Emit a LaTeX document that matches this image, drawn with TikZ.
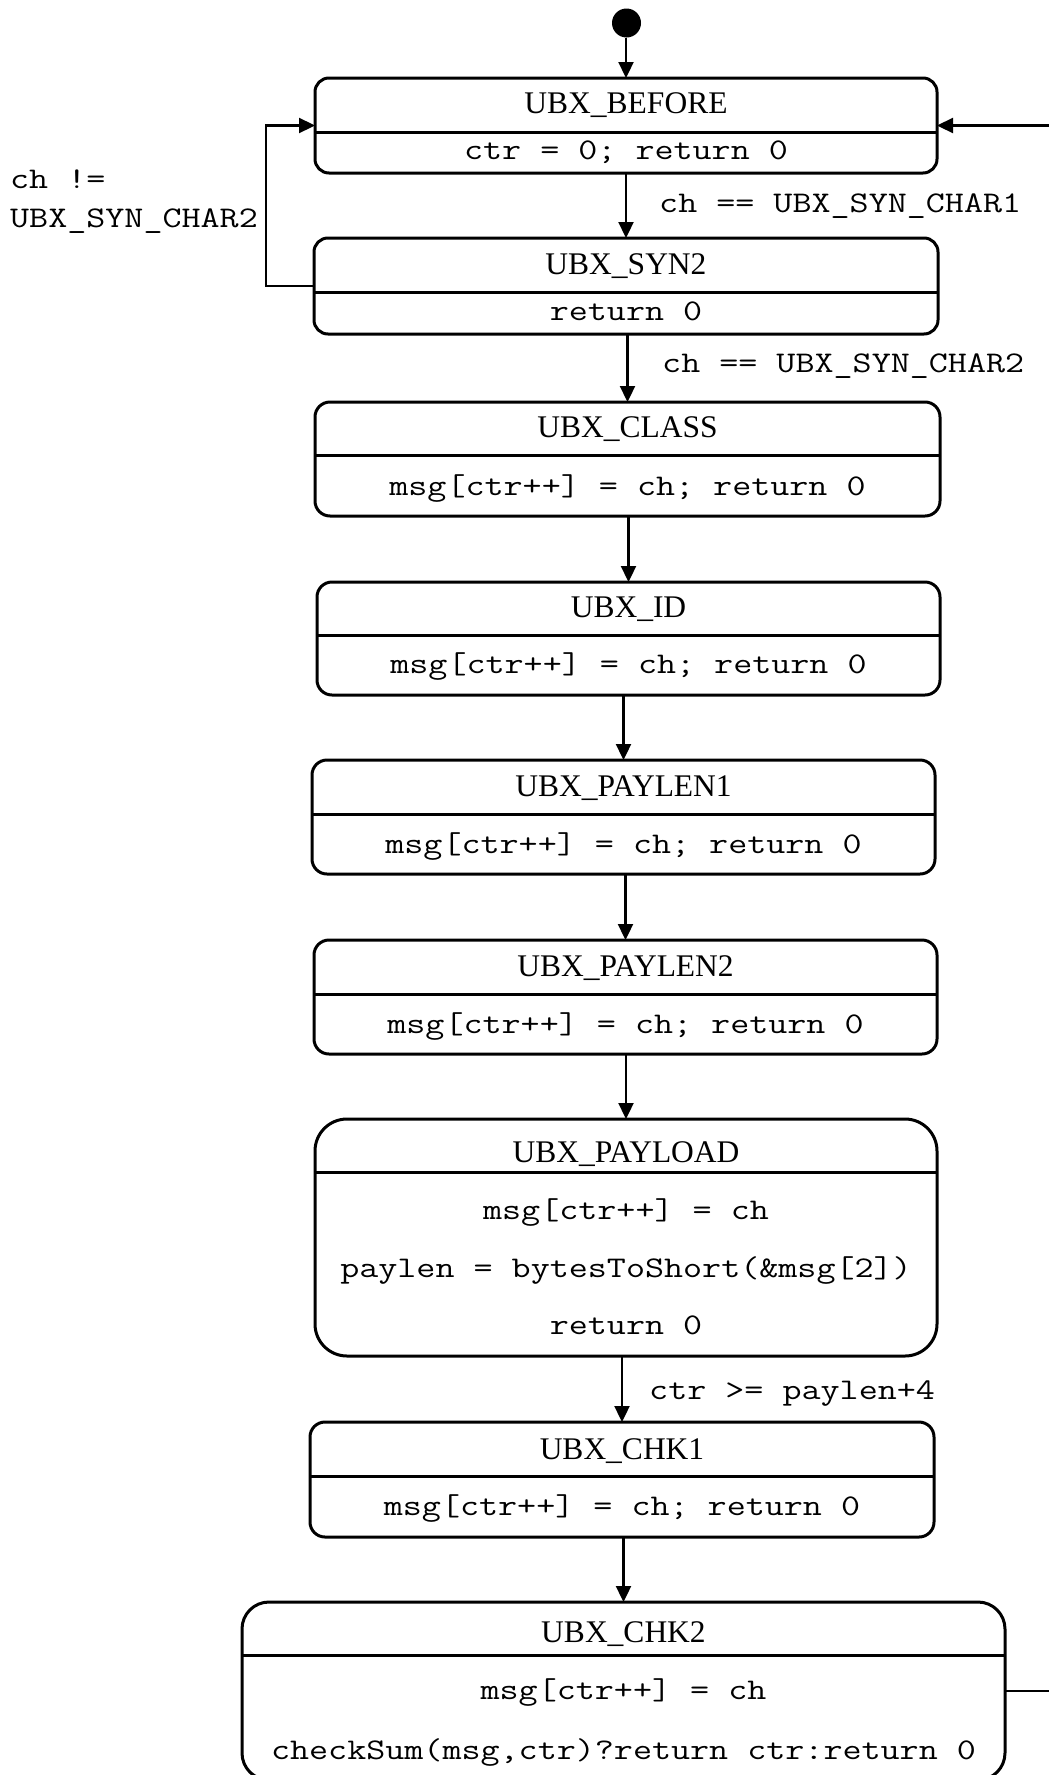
\documentclass[tikz,border=0pt]{standalone}
\usepackage{fontspec}
\setmainfont{Liberation Serif}
\usetikzlibrary{arrows.meta}
% typewriter text for actions and guards, widened to a Courier-like pitch
\newcommand\codetext[1]{\scalebox{1.233}[1]{\ttfamily\fontsize{30}{36}\selectfont #1}}
\tikzset{
  statebox/.style={draw, line width=3pt, rectangle, inner sep=0pt, outer sep=0pt, anchor=north west},
  divider/.style={line width=3pt},
  statename/.style={font=\fontsize{31.5}{38}\selectfont, inner sep=0pt, anchor=base},
  action/.style={inner sep=0pt, anchor=base},
  guard/.style={inner sep=0pt, anchor=base west},
  conn/.style={line width=2.3pt, -{Triangle[length=16pt,width=15pt]}},
}
\begin{document}
\begin{tikzpicture}[x=1pt,y=-1pt]
\useasboundingbox (0,0) rectangle (1049,1775);
\fill[white] (0,0) rectangle (1049,1775);
\clip (0,0) rectangle (1049,1775);

% initial pseudo-state
\node[circle, fill=black, inner sep=0pt, minimum size=29pt] (init) at (626.5,23) {};

% UBX_BEFORE
\node[statebox, rounded corners=14pt, minimum width=622pt, minimum height=95pt] (before) at (315,78) {};
\draw[divider] ([yshift=-54pt]before.north west) -- ([yshift=-54pt]before.north east);
\node[statename] (beforeT) at ([yshift=-35pt]before.north) {UBX\_BEFORE};
\node[action] (beforeA) at ([yshift=-81pt]before.north) {\codetext{ctr = 0; return 0}};

% UBX_SYN2
\node[statebox, rounded corners=14pt, minimum width=624pt, minimum height=96pt] (syn2) at (314,238) {};
\draw[divider] ([yshift=-54pt]syn2.north west) -- ([yshift=-54pt]syn2.north east);
\node[statename] (syn2T) at ([yshift=-36pt]syn2.north) {UBX\_SYN2};
\node[action] (syn2A) at ([yshift=-82pt]syn2.north) {\codetext{return 0}};

% UBX_CLASS
\node[statebox, rounded corners=15pt, minimum width=625pt, minimum height=114pt] (class) at (315,402) {};
\draw[divider] ([yshift=-53pt]class.north west) -- ([yshift=-53pt]class.north east);
\node[statename] (classT) at ([yshift=-35pt]class.north) {UBX\_CLASS};
\node[action] (classA) at ([yshift=-93pt]class.north) {\codetext{msg[ctr++] = ch; return 0}};

% UBX_ID
\node[statebox, rounded corners=15pt, minimum width=623pt, minimum height=113pt] (id) at (317,582) {};
\draw[divider] ([yshift=-53pt]id.north west) -- ([yshift=-53pt]id.north east);
\node[statename] (idT) at ([yshift=-35pt]id.north) {UBX\_ID};
\node[action] (idA) at ([yshift=-91pt]id.north) {\codetext{msg[ctr++] = ch; return 0}};

% UBX_PAYLEN1
\node[statebox, rounded corners=15pt, minimum width=623pt, minimum height=114pt] (plen1) at (312,760) {};
\draw[divider] ([yshift=-54pt]plen1.north west) -- ([yshift=-54pt]plen1.north east);
\node[statename] (plen1T) at ([yshift=-36pt]plen1.north) {UBX\_PAYLEN1};
\node[action] (plen1A) at ([yshift=-93pt]plen1.north) {\codetext{msg[ctr++] = ch; return 0}};

% UBX_PAYLEN2
\node[statebox, rounded corners=15pt, minimum width=623pt, minimum height=114pt] (plen2) at (314,940) {};
\draw[divider] ([yshift=-54pt]plen2.north west) -- ([yshift=-54pt]plen2.north east);
\node[statename] (plen2T) at ([yshift=-36pt]plen2.north) {UBX\_PAYLEN2};
\node[action] (plen2A) at ([yshift=-93pt]plen2.north) {\codetext{msg[ctr++] = ch; return 0}};

% UBX_PAYLOAD
\node[statebox, rounded corners=32pt, minimum width=622pt, minimum height=237pt] (payload) at (315,1119) {};
\draw[divider] ([yshift=-53pt]payload.north west) -- ([yshift=-53pt]payload.north east);
\node[statename] (payloadT) at ([yshift=-43pt]payload.north) {UBX\_PAYLOAD};
\node[action] (payloadA1) at ([yshift=-100pt]payload.north) {\codetext{msg[ctr++] = ch}};
\node[action] (payloadA2) at ([yshift=-158pt]payload.north) {\codetext{paylen = bytesToShort(\&msg[2])}};
\node[action] (payloadA3) at ([yshift=-215pt]payload.north) {\codetext{return 0}};

% UBX_CHK1
\node[statebox, rounded corners=15pt, minimum width=624pt, minimum height=115pt] (chk1) at (310,1422) {};
\draw[divider] ([yshift=-54pt]chk1.north west) -- ([yshift=-54pt]chk1.north east);
\node[statename] (chk1T) at ([yshift=-37pt]chk1.north) {UBX\_CHK1};
\node[action] (chk1A) at ([yshift=-93pt]chk1.north) {\codetext{msg[ctr++] = ch; return 0}};

% UBX_CHK2
\node[statebox, rounded corners=27pt, minimum width=763pt, minimum height=178pt] (chk2) at (242,1602) {};
\draw[divider] ([yshift=-53pt]chk2.north west) -- ([yshift=-53pt]chk2.north east);
\node[statename] (chk2T) at ([yshift=-40pt]chk2.north) {UBX\_CHK2};
\node[action] (chk2A1) at ([yshift=-97pt]chk2.north) {\codetext{msg[ctr++] = ch}};
\node[action] (chk2A2) at ([yshift=-157pt]chk2.north) {\codetext{checkSum(msg,ctr)?return ctr:return 0}};

% transitions down the chain
\draw[conn] (init.south -| before.north) -- (before.north);
\draw[conn] (before.south -| syn2.north) -- (syn2.north);
\draw[conn] (syn2.south -| class.north) -- (class.north);
\draw[conn] (class.south -| id.north) -- (id.north);
\draw[conn] (id.south -| plen1.north) -- (plen1.north);
\draw[conn] (plen1.south -| plen2.north) -- (plen2.north);
\draw[conn] (plen2.south -| payload.north) -- (payload.north);
\draw[conn] (payload.south -| chk1.north) -- (chk1.north);
\draw[conn] (chk1.south -| chk2.north) -- (chk2.north);

% back to the start on a bad second sync byte
\draw[conn] (syn2.west) -- ++(-48,0) |- (before.west);
% back to the start after the checksum
\draw[conn] (chk2.east) -- ++(80,0) |- (before.east);

% guards
\node[guard] (g1) at (659,212) {\codetext{ch == UBX\_SYN\_CHAR1}};
\node[guard] (g2) at (662,372) {\codetext{ch == UBX\_SYN\_CHAR2}};
\node[guard] (g3a) at (10,188) {\codetext{ch !=}};
\node[guard] (g3b) at (10,227) {\codetext{UBX\_SYN\_CHAR2}};
\node[guard] (g4) at (649,1399) {\codetext{ctr >= paylen+4}};
\end{tikzpicture}
\end{document}
